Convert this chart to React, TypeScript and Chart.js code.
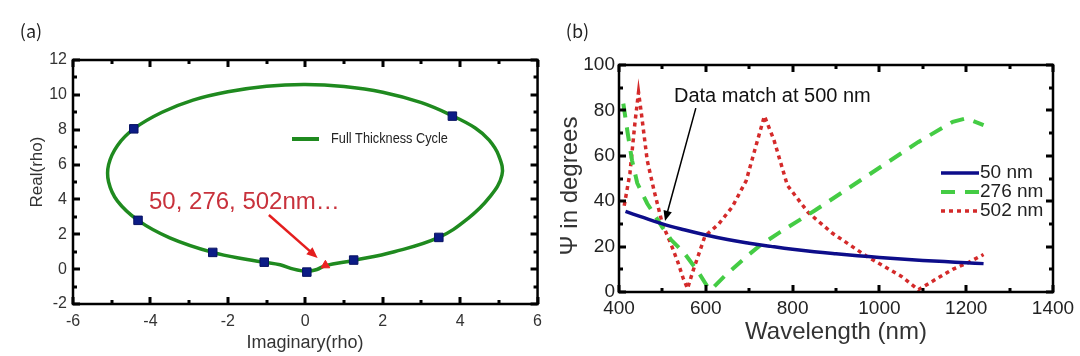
import React, { useEffect, useRef } from "react";
import { Chart, registerables } from "chart.js";

Chart.register(...registerables);

const FONT = "'Liberation Sans', Arial, Helvetica, sans-serif";
const CJK = "'Noto Sans CJK JP', 'Noto Sans', sans-serif";

// ---------- Panel (a) data ----------
const cycleX = [0.04, 0.3, 0.52, 1.25, 2.3, 3.45, 4.2, 4.75, 5.08, 5.0, 4.75, 4.39, 3.8, 3.0, 2.0, 1.0, 0.0, -1.0, -2.0, -2.9, -3.7, -4.43, -4.85, -5.08, -5.08, -4.85, -4.32, -3.5, -2.39, -1.5, -1.06, -0.65, -0.3, 0.04];
const cycleY = [-0.15, -0.02, 0.2, 0.5, 1.0, 1.82, 2.9, 4.1, 5.4, 6.5, 7.4, 8.1, 8.8, 9.55, 10.15, 10.48, 10.6, 10.5, 10.18, 9.7, 9.0, 8.05, 7.1, 6.0, 5.0, 3.9, 2.8, 1.8, 0.96, 0.55, 0.4, 0.25, 0.0, -0.15];
const markerX = [-4.43, -4.32, -2.39, -1.06, 0.04, 1.25, 3.45, 3.8];
const markerY = [8.05, 2.8, 0.96, 0.4, -0.17, 0.52, 1.82, 8.78];
const matchX = [0.52];
const matchY = [0.22];
const cycleLabel = "Full Thickness Cycle";
const cycleNote = "50, 276, 502nm\u2026";
const panelALabel = "(a)";
const axisAX = "Imaginary(rho)";
const axisAY = "Real(rho)";
const xRangeA = [-6, 6, 2];
const yRangeA = [-2, 12, 2];

// ---------- Panel (b) data ----------
const wl50 = [415, 450, 500, 550, 600, 650, 700, 750, 800, 850, 900, 950, 1000, 1050, 1100, 1150, 1200, 1240];
const psi50 = [35.5, 33.2, 30, 27.4, 25.1, 23.1, 21.5, 20.1, 18.8, 17.7, 16.8, 16, 15.2, 14.5, 13.9, 13.4, 12.9, 12.5];
const wl276 = [410, 420, 430, 442, 465, 500, 520, 551, 582, 605, 612, 646, 693, 725, 772, 852, 931, 1010, 1089, 1169, 1200, 1240];
const psi276 = [83, 70, 58, 48, 39, 28.5, 23, 17, 9, 2, 1, 7.5, 15.5, 20.5, 26.5, 36, 46, 56, 66, 75, 76.5, 73.5];
const wl502 = [412, 425, 437, 445, 452, 465, 481, 500, 520, 535, 548, 558, 570, 598, 630, 661, 693, 715, 735, 757, 788, 836, 891, 971, 1050, 1090, 1129, 1169, 1205, 1240];
const psi502 = [38, 52, 75, 88, 78, 58, 44.5, 30, 21, 13.5, 6, 1.5, 9, 24.6, 30, 37.5, 49, 64, 77.5, 67, 47, 35, 26, 15.7, 7, 1, 5.5, 10, 13, 16.5];
const seriesLabels = ["50 nm", "276 nm", "502 nm"];
const matchNote = "Data match at 500 nm";
const panelBLabel = "(b)";
const axisBX = "Wavelength (nm)";
const axisBY = "\u03A8 in degrees";
const xRangeB = [400, 1400, 200];
const yRangeB = [0, 100, 20];

// annotation anchors (data units)
const noteArrowA = { x1: -0.94, y1: 3.11, x2: 0.32, y2: 0.64 };
const noteArrowB = { x1: 577, y1: 81, x2: 506, y2: 31.3 };

const toPts = (xs: number[], ys: number[]) => xs.map((x, i) => ({ x, y: ys[i] }));

function steps(r: number[]) {
  const out: number[] = [];
  const n = Math.round(((r[1] - r[0]) / r[2]) * 2);
  for (let i = 0; i <= n; i++) out.push(r[0] + (i * r[2]) / 2);
  return out;
}

function drawFrame(chart: any, xr: number[], yr: number[]) {
  const ctx: CanvasRenderingContext2D = chart.ctx;
  const a = chart.chartArea;
  const xs = chart.scales.x;
  const ys = chart.scales.y;
  const major = 7, minor = 4, tw = 3;
  ctx.save();
  ctx.fillStyle = "#000";
  steps(xr).forEach((v, i) => {
    const len = i % 2 === 0 ? major : minor;
    const p = Math.round(xs.getPixelForValue(v));
    ctx.fillRect(p - tw / 2, a.bottom - len, tw, len);
    ctx.fillRect(p - tw / 2, a.top, tw, len);
  });
  steps(yr).forEach((v, i) => {
    const len = i % 2 === 0 ? major : minor;
    const p = Math.round(ys.getPixelForValue(v));
    ctx.fillRect(a.left, p - tw / 2, len, tw);
    ctx.fillRect(a.right - len, p - tw / 2, len, tw);
  });
  ctx.strokeStyle = "#000";
  ctx.setLineDash([]);
  ctx.lineWidth = 2.5;
  ctx.strokeRect(a.left, a.top, a.right - a.left, a.bottom - a.top);
  ctx.restore();
}

function arrow(ctx: CanvasRenderingContext2D, x1: number, y1: number, x2: number, y2: number, color: string, w: number, head: number) {
  const ang = Math.atan2(y2 - y1, x2 - x1);
  ctx.save();
  ctx.strokeStyle = color;
  ctx.fillStyle = color;
  ctx.lineWidth = w;
  ctx.beginPath();
  ctx.moveTo(x1, y1);
  ctx.lineTo(x2 - Math.cos(ang) * head * 0.8, y2 - Math.sin(ang) * head * 0.8);
  ctx.stroke();
  ctx.beginPath();
  ctx.moveTo(x2, y2);
  ctx.lineTo(x2 - head * Math.cos(ang - 0.4), y2 - head * Math.sin(ang - 0.4));
  ctx.lineTo(x2 - head * Math.cos(ang + 0.4), y2 - head * Math.sin(ang + 0.4));
  ctx.closePath();
  ctx.fill();
  ctx.restore();
}

const annotA = {
  id: "annotA",
  afterDraw(chart: any) {
    const { ctx, scales } = chart;
    const xs = scales.x, ys = scales.y;
    drawFrame(chart, xRangeA, yRangeA);
    ctx.save();
    ctx.fillStyle = "#222";
    ctx.font = `18px ${CJK}`;
    ctx.textAlign = "center";
    ctx.textBaseline = "middle";
    ctx.fillText(panelALabel, 31, 31);
    ctx.fillStyle = "#333";
    ctx.font = `18px ${FONT}`;
    ctx.fillText(axisAX, 305, 343);
    ctx.save();
    ctx.translate(37, 172);
    ctx.rotate(-Math.PI / 2);
    ctx.font = `17px ${FONT}`;
    ctx.fillText(axisAY, 0, 0);
    ctx.restore();
    const ds = chart.data.datasets[2];
    ctx.strokeStyle = ds.borderColor;
    ctx.lineWidth = 4;
    ctx.beginPath();
    ctx.moveTo(292, 139);
    ctx.lineTo(319, 139);
    ctx.stroke();
    ctx.save();
    ctx.translate(331, 139);
    ctx.scale(0.85, 1);
    ctx.fillStyle = "#222";
    ctx.textAlign = "left";
    ctx.font = `15px ${FONT}`;
    ctx.fillText(cycleLabel, 0, 0);
    ctx.restore();
    ctx.fillStyle = "#c8323c";
    ctx.textAlign = "left";
    ctx.font = `24px ${FONT}`;
    ctx.fillText(cycleNote, 149, 202);
    arrow(
      ctx,
      xs.getPixelForValue(noteArrowA.x1), ys.getPixelForValue(noteArrowA.y1),
      xs.getPixelForValue(noteArrowA.x2), ys.getPixelForValue(noteArrowA.y2),
      "#e41e1e", 2.5, 12
    );
    ctx.restore();
  },
};

const annotB = {
  id: "annotB",
  afterDraw(chart: any) {
    const { ctx, scales } = chart;
    const xs = scales.x, ys = scales.y;
    drawFrame(chart, xRangeB, yRangeB);
    ctx.save();
    ctx.fillStyle = "#222";
    ctx.font = `18px ${CJK}`;
    ctx.textAlign = "center";
    ctx.textBaseline = "middle";
    ctx.fillText(panelBLabel, 27.5, 31);
    ctx.fillStyle = "#333";
    ctx.font = `24px ${FONT}`;
    ctx.fillText(axisBX, 286, 332);
    ctx.save();
    ctx.translate(20, 186);
    ctx.rotate(-Math.PI / 2);
    ctx.fillText(axisBY, 0, 0);
    ctx.restore();
    const rows = [173, 192, 211];
    chart.data.datasets.forEach((ds: any, i: number) => {
      ctx.save();
      ctx.strokeStyle = ds.borderColor;
      ctx.lineWidth = ds.borderWidth;
      ctx.setLineDash(ds.borderDash || []);
      ctx.beginPath();
      ctx.moveTo(391, rows[i]);
      ctx.lineTo(429, rows[i]);
      ctx.stroke();
      ctx.restore();
      ctx.fillStyle = "#222";
      ctx.textAlign = "left";
      ctx.font = `19px ${FONT}`;
      ctx.fillText(seriesLabels[i], 430, rows[i]);
    });
    ctx.fillStyle = "#111";
    ctx.font = `20px ${FONT}`;
    ctx.textAlign = "left";
    ctx.fillText(matchNote, 124, 96);
    arrow(
      ctx,
      xs.getPixelForValue(noteArrowB.x1), ys.getPixelForValue(noteArrowB.y1),
      xs.getPixelForValue(noteArrowB.x2), ys.getPixelForValue(noteArrowB.y2),
      "#000", 1.5, 11
    );
    ctx.restore();
  },
};

const plainTick = (v: any) => String(v);

export default function App() {
  const refA = useRef<HTMLCanvasElement>(null);
  const refB = useRef<HTMLCanvasElement>(null);

  useEffect(() => {
    const common: any = {
      responsive: false,
      maintainAspectRatio: false,
      animation: false,
      devicePixelRatio: 1,
      events: [],
      plugins: { legend: { display: false }, tooltip: { enabled: false } },
    };

    const chartA = new Chart(refA.current!, {
      type: "scatter",
      data: {
        datasets: [
          {
            label: "match",
            data: toPts(matchX, matchY),
            pointStyle: "triangle",
            pointRadius: 5,
            backgroundColor: "#ee2222",
            borderColor: "#ee2222",
            showLine: false,
          },
          {
            label: "markers",
            data: toPts(markerX, markerY),
            pointStyle: "rect",
            pointRadius: 6,
            backgroundColor: "#0c1c86",
            borderColor: "#081262",
            borderWidth: 1,
            showLine: false,
          },
          {
            label: cycleLabel,
            data: toPts(cycleX, cycleY),
            showLine: true,
            pointRadius: 0,
            borderColor: "#1f8a1f",
            borderWidth: 3.5,
            tension: 0.4,
          },
        ],
      },
      options: {
        ...common,
        layout: { padding: { top: 60, right: 10, left: 0, bottom: 0 } },
        scales: {
          x: {
            type: "linear",
            min: xRangeA[0],
            max: xRangeA[1],
            ticks: { stepSize: xRangeA[2], autoSkip: false, font: { size: 16, family: FONT }, color: "#333", padding: 8, callback: plainTick },
            grid: { display: false, drawTicks: false },
            border: { display: false },
            afterFit: (s: any) => { s.height = 52; },
          },
          y: {
            type: "linear",
            min: yRangeA[0],
            max: yRangeA[1],
            ticks: { stepSize: yRangeA[2], autoSkip: false, font: { size: 16, family: FONT }, color: "#333", padding: 6, callback: plainTick },
            grid: { display: false, drawTicks: false },
            border: { display: false },
            afterFit: (s: any) => { s.width = 73; },
          },
        },
      },
      plugins: [annotA],
    } as any);

    const chartB = new Chart(refB.current!, {
      type: "scatter",
      data: {
        datasets: [
          {
            label: seriesLabels[0],
            data: toPts(wl50, psi50),
            showLine: true,
            pointRadius: 0,
            borderColor: "#0d0d8a",
            borderWidth: 3.5,
            tension: 0.4,
          },
          {
            label: seriesLabels[1],
            data: toPts(wl276, psi276),
            showLine: true,
            pointRadius: 0,
            borderColor: "#44cc44",
            borderWidth: 4,
            borderDash: [14, 10],
            tension: 0,
          },
          {
            label: seriesLabels[2],
            data: toPts(wl502, psi502),
            showLine: true,
            pointRadius: 0,
            borderColor: "#d42a2a",
            borderWidth: 3.5,
            borderDash: [4, 4],
            tension: 0,
          },
        ],
      },
      options: {
        ...common,
        layout: { padding: { top: 65, right: 27, left: 0, bottom: 0 } },
        scales: {
          x: {
            type: "linear",
            min: xRangeB[0],
            max: xRangeB[1],
            ticks: { stepSize: xRangeB[2], autoSkip: false, font: { size: 19, family: FONT }, color: "#222", padding: 5, callback: plainTick },
            grid: { display: false, drawTicks: false },
            border: { display: false },
            afterFit: (s: any) => { s.height = 64; },
          },
          y: {
            type: "linear",
            min: yRangeB[0],
            max: yRangeB[1],
            ticks: { stepSize: yRangeB[2], autoSkip: false, font: { size: 19, family: FONT }, color: "#222", padding: 4, callback: plainTick },
            grid: { display: false, drawTicks: false },
            border: { display: false },
            afterFit: (s: any) => { s.width = 69; },
          },
        },
      },
      plugins: [annotB],
    } as any);

    return () => {
      chartA.destroy();
      chartB.destroy();
    };
  }, []);

  return (
    <div style={{ position: "fixed", left: 0, top: 0, width: 1080, height: 356, background: "#fff" }}>
      <canvas ref={refA} width={550} height={356} style={{ position: "absolute", left: 0, top: 0, width: 550, height: 356 }} />
      <canvas ref={refB} width={530} height={356} style={{ position: "absolute", left: 550, top: 0, width: 530, height: 356 }} />
    </div>
  );
}
